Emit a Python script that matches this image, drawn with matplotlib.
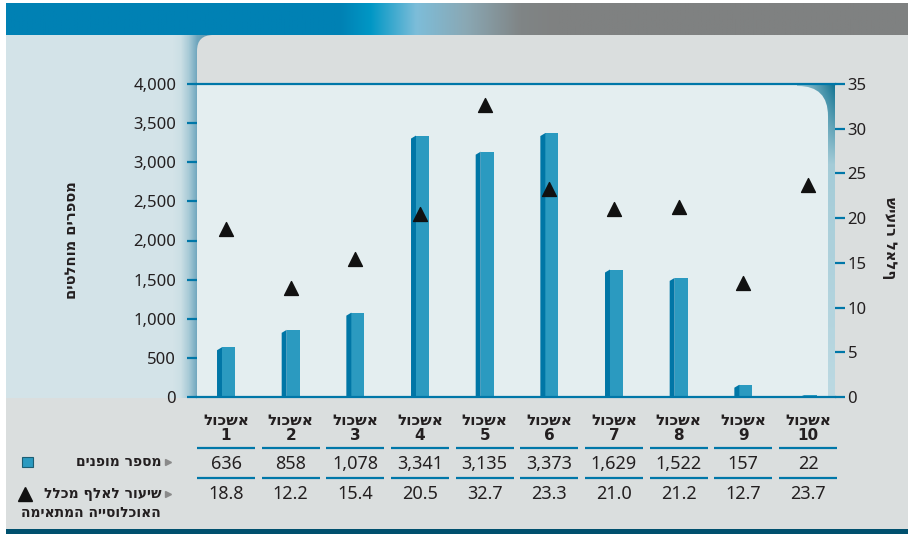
import matplotlib
matplotlib.use("Agg")
import matplotlib.pyplot as plt
import matplotlib.transforms as mtransforms
from matplotlib.patches import Rectangle, FancyBboxPatch
from matplotlib.colors import to_rgb
import numpy as np

# data
clusters = ["1", "2", "3", "4", "5", "6", "7", "8", "9", "10"]
cluster_word = "אשכול"
referrals = [636, 858, 1078, 3341, 3135, 3373, 1629, 1522, 157, 22]
rate_per_1000 = [18.8, 12.2, 15.4, 20.5, 32.7, 23.3, 21.0, 21.2, 12.7, 23.7]
left_ticks = [0, 500, 1000, 1500, 2000, 2500, 3000, 3500, 4000]
right_ticks = [0, 5, 10, 15, 20, 25, 30, 35]
left_label = "מספרים מוחלטים"
right_label = "שיעור לאלף"
row1_label = "מספר מופנים"
row2_label = ["שיעור לאלף מכלל", "האוכלוסייה המתאימה"]

BLUE = "#0077A8"
FACE = "#2B9AC0"
TXT = "#231f20"
HEB = "DejaVu Sans"


def heb(s):
    # matplotlib has no bidi, so put hebrew in visual order
    return s[::-1]


def grad(stops, n=400):
    xs = np.linspace(0, 1, n)
    pos = [p for p, _ in stops]
    cols = np.array([to_rgb(c) for _, c in stops])
    return np.stack([np.interp(xs, pos, cols[:, k]) for k in range(3)], axis=-1)


plt.rcParams['font.family'] = ['Noto Sans', 'DejaVu Sans']

W, H = 908, 534
fig = plt.figure(figsize=(W / 100, H / 100), dpi=100)
fig.patch.set_facecolor("white")

# background layer in pixel coords
bg = fig.add_axes([0, 0, 1, 1], zorder=0)
bg.axis("off")

banner = grad([(0, "#0081B4"), (0.37, "#0081B4"), (0.404, "#0097C5"), (0.455, "#7DBDD9"),
               (0.51, "#8AA8B4"), (0.57, "#808586"), (0.61, "#7F8181"), (1, "#7F8181")])
bg.imshow(banner[None, :, :], extent=(6, W, 35, 3), aspect="auto", interpolation="bilinear", zorder=1)

bg.add_patch(Rectangle((6, 35), W - 6, 495, fc="#DADEDE", lw=0, zorder=1))
bg.add_patch(Rectangle((6, 35), 191, 363, fc="#D3E3E8", lw=0, zorder=2))
strip = grad([(0, "#D3E3E8"), (0.2, "#CBDFE5"), (0.4, "#A9CBD7"), (0.62, "#6FA6BD"), (1, "#4E90AB")])
bg.imshow(strip[None, :, :], extent=(173, 212, 398, 35), aspect="auto", interpolation="bilinear", zorder=3)
bg.add_patch(FancyBboxPatch((197, 35), 800, 600, boxstyle="round,pad=0,rounding_size=16",
                            fc="#DADEDE", lw=0, zorder=4))

# plot panel with teal corner
cx0, cx1, cy0, cy1 = 790, 835, 84, 397
xx, yy = np.meshgrid(np.linspace(cx0, cx1, 60), np.linspace(cy0, cy1, 200))
light = grad([(0, "#9CC7D4"), (1, "#BCD9E2")], 200)[:, None, :]
dark = np.array(to_rgb("#127391"))
t = (np.clip((xx - 795) / 40, 0, 1) ** 1.3 * np.clip(1 - (yy - 84) / 80, 0, 1))[..., None]
corner = light * (1 - t) + dark * t
bg.imshow(corner, extent=(cx0, cx1, cy1, cy0), aspect="auto", interpolation="bilinear", zorder=5)
bg.add_patch(Rectangle((197, 84), 600, 313, fc="#E4EEF0", lw=0, zorder=5))
panel = FancyBboxPatch((150, 86), 828 - 150, 400, boxstyle="round,pad=0,rounding_size=30",
                       fc="#E4EEF0", lw=0, zorder=6)
bg.add_patch(panel)
clip = Rectangle((197, 84), 638, 313, transform=bg.transData)
panel.set_clip_path(clip)

bg.add_patch(Rectangle((6, 529), W - 6, 5, fc="#00506E", lw=0, zorder=6))

# main axes
ax = fig.add_axes([197 / W, 1 - 397 / H, (835 - 197) / W, (397 - 84) / H], zorder=2)
ax.patch.set_visible(False)
ax2 = ax.twinx()
ax2.set_zorder(3)
ax2.patch.set_visible(False)

x = np.arange(len(clusters))
side_w, face_w = 0.077, 0.201
bar_left = x - (side_w + face_w) / 2
ax.bar(bar_left + side_w, referrals, width=face_w, align="edge", color=FACE, lw=0, zorder=3)
bevel = 3 * 4000 / 313
for bl, v in zip(bar_left, referrals):
    ax.fill([bl, bl, bl + side_w, bl + side_w], [0, max(v - bevel, 0), v, 0],
            color="#0076A6", lw=0, zorder=3)

ax2.scatter(x, rate_per_1000, marker="^", s=100, color="#111111", zorder=5, clip_on=False)

ax.set_xlim(-0.4485, 9.4175)
ax.set_ylim(0, 4000)
ax2.set_ylim(0, 35)
ax.set_yticks(left_ticks)
ax.set_yticklabels([f"{v:,}" for v in left_ticks])
ax2.set_yticks(right_ticks)
ax2.set_yticklabels([str(v) for v in right_ticks])
ax.set_xticks([])

for a in (ax, ax2):
    for s in a.spines.values():
        s.set_visible(False)
for s in ("top", "bottom"):
    ax.spines[s].set_visible(True)
    ax.spines[s].set_color(BLUE)
    ax.spines[s].set_linewidth(1.6)
    ax.spines[s].set_zorder(6)

ax.tick_params(axis="y", direction="out", length=7, width=1.6, color=BLUE, pad=8,
               labelsize=12, labelcolor=TXT)
ax2.tick_params(axis="y", direction="out", length=7, width=1.6, color=BLUE, pad=2,
                labelsize=12, labelcolor=TXT)

# table under the chart
tr = mtransforms.blended_transform_factory(ax.transData, bg.transData)
for xi, c, v, r in zip(x, clusters, referrals, rate_per_1000):
    ax.text(xi, 428, heb(cluster_word) + "\n" + c, transform=tr, ha="center", va="center",
            fontsize=11, fontweight="bold", family=HEB, color=TXT, linespacing=1.0)
    for yl in (448, 478):
        ax.plot([xi - 0.45, xi + 0.45], [yl, yl], transform=tr, color=BLUE, lw=1.6,
                clip_on=False, solid_capstyle="butt")
    ax.text(xi, 464, f"{v:,}", transform=tr, ha="center", va="center", fontsize=13, color=TXT)
    ax.text(xi, 494, f"{r:.1f}", transform=tr, ha="center", va="center", fontsize=13, color=TXT)

bg.add_patch(Rectangle((22, 457), 11, 10, fc=FACE, ec="#1B5E74", lw=0.8, zorder=7))
bg.text(161, 462, heb(row1_label), ha="right", va="center", fontsize=10, fontweight="bold",
        family=HEB, color=TXT, zorder=7)
bg.text(161, 494, heb(row2_label[0]), ha="right", va="center", fontsize=10, fontweight="bold",
        family=HEB, color=TXT, zorder=7)
bg.text(161, 513, heb(row2_label[1]), ha="right", va="center", fontsize=10, fontweight="bold",
        family=HEB, color=TXT, zorder=7)
for yl in (462, 494):
    bg.plot(168, yl, marker=">", ms=5, color="#8a8a8a", zorder=7)
bg.plot(25, 494, marker="^", ms=10, color="#111111", zorder=7)

bg.text(72, 240, heb(left_label), rotation=90, ha="center", va="center", fontsize=10.5,
        fontweight="bold", family=HEB, color=TXT, zorder=7)
bg.text(890, 238, right_label, rotation=270, ha="center", va="center", fontsize=10.5,
        fontweight="bold", family=HEB, color=TXT, zorder=7)

bg.set_xlim(0, W)
bg.set_ylim(H, 0)

fig.savefig("out.png", dpi=100)
